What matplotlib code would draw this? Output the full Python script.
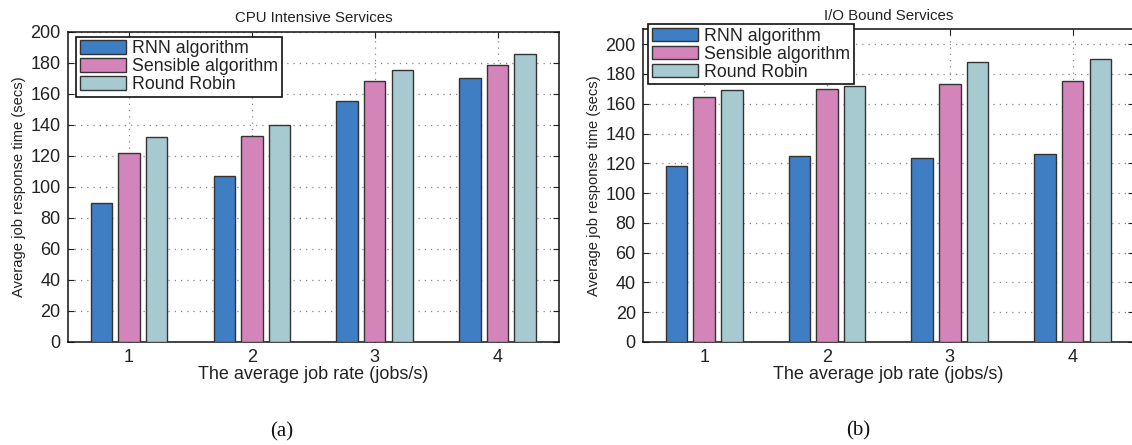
import matplotlib
matplotlib.use('Agg')
import matplotlib.pyplot as plt
import numpy as np

plt.rcParams['font.family'] = ['Liberation Sans', 'DejaVu Sans']

job_rates = [1, 2, 3, 4]
series_names = ['RNN algorithm', 'Sensible algorithm', 'Round Robin']

cpu_rnn = [89.5, 107, 155.5, 170]
cpu_sensible = [122, 133, 168.5, 178.5]
cpu_round_robin = [132, 140, 175.5, 185.5]

io_rnn = [118, 125, 123.5, 126]
io_sensible = [164.5, 170, 173, 175.5]
io_round_robin = [169, 172, 188, 190]

colors = ['#3f7ec3', '#d384b8', '#a6cacf']
text_color = '#222222'


def draw_panel(ax, series, title, ylim_top):
    x = np.array(job_rates)
    offsets = [-0.225, 0.0, 0.225]
    for vals, off, col, name in zip(series, offsets, colors, series_names):
        ax.bar(x + off, vals, width=0.175, color=col, edgecolor='#333333',
               linewidth=1.0, label=name, zorder=3)
    ax.set_xlim(0.5, 4.5)
    ax.set_ylim(0, ylim_top)
    ax.set_xticks(job_rates)
    ax.set_yticks(np.arange(0, 201, 20))
    ax.tick_params(direction='in', length=4, labelsize=13, colors=text_color,
                   top=True, right=True, pad=5)
    ax.grid(True, linestyle=(0, (1, 4)), color='#888888', linewidth=0.9, zorder=0)
    for s in ax.spines.values():
        s.set_color('#111111')
        s.set_linewidth(1.1)
    ax.set_xlabel('The average job rate (jobs/s)', fontsize=13, color=text_color,
                  labelpad=0)
    ax.set_ylabel('Average job response time (secs)', fontsize=10.6,
                  color=text_color, labelpad=3)
    ax.set_title(title, fontsize=10.8, color=text_color, pad=7)


fig = plt.figure(figsize=(11.32, 4.45), dpi=100)
ax1 = fig.add_axes([0.0598, 0.2315, 0.434, 0.6966])
ax2 = fig.add_axes([0.5678, 0.2315, 0.434, 0.7027])

draw_panel(ax1, [cpu_rnn, cpu_sensible, cpu_round_robin], 'CPU Intensive Services', 200)
draw_panel(ax2, [io_rnn, io_sensible, io_round_robin], 'I/O Bound Services', 210)

legend_kw = dict(loc='upper left', fontsize=12.8, fancybox=False, framealpha=1,
                 edgecolor='#111111', borderaxespad=0, borderpad=0.2,
                 handlelength=2.6, handleheight=0.8, handletextpad=0.35,
                 labelspacing=0.05)
leg1 = ax1.legend(bbox_to_anchor=(0.0671, 0.9175), bbox_transform=fig.transFigure, **legend_kw)
leg2 = ax2.legend(bbox_to_anchor=(0.5724, 0.9454), bbox_transform=fig.transFigure, **legend_kw)
for leg in (leg1, leg2):
    leg.get_frame().set_linewidth(1.2)
    leg.set_zorder(10)
    for t in leg.get_texts():
        t.set_color(text_color)

fig.text(282 / 1132, 1 - 432 / 445, '(a)', ha='center', va='center',
         fontsize=15, family='Liberation Serif', color='#111111')
fig.text(858 / 1132, 1 - 431 / 445, '(b)', ha='center', va='center',
         fontsize=15, family='Liberation Serif', color='#111111')

fig.savefig('out.png', dpi=100)
